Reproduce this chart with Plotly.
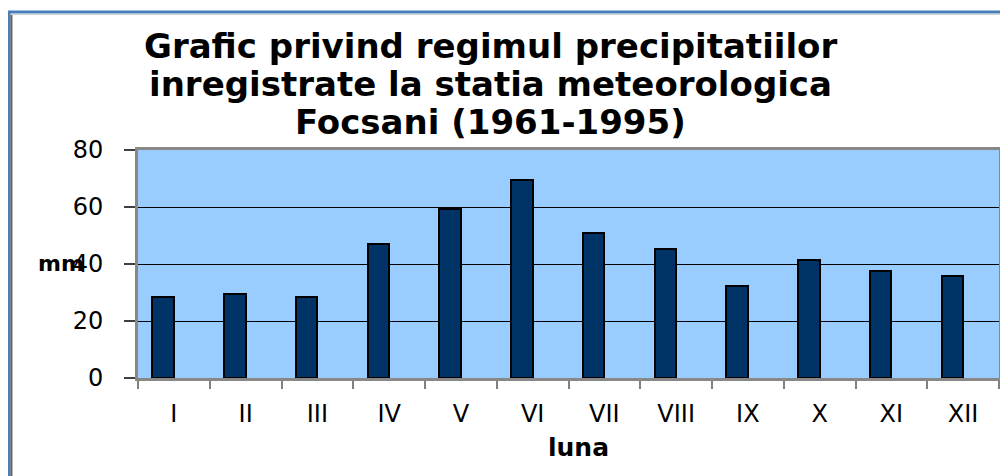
import plotly.graph_objects as go

months = ["I", "II", "III", "IV", "V", "VI", "VII", "VIII", "IX", "X", "XI", "XII"]
precip_mm = [28.5, 29.4, 28.3, 46.9, 59.2, 69.5, 51.0, 45.4, 32.3, 41.4, 37.4, 35.8]
y_ticks = [0, 20, 40, 60, 80]
title_lines = ["Grafic privind regimul precipitatiilor",
               "inregistrate la statia meteorologica",
               "Focsani (1961-1995)"]

# page offset (browser body margin)
OX, OY = 8, 8
W, H = 1000, 468
L, R, T, B = 138 - OX, 6, 150 - OY, 98
PW, PH = W - L - R, H - T - B


def px_x(px):
    return (px - OX - L) / PW


def px_y(py):
    return (H - B - (py - OY)) / PH


FONT = "DejaVu Sans"

fig = go.Figure()
fig.add_trace(go.Bar(
    x=months, y=precip_mm,
    width=0.3, offset=-0.3,
    marker=dict(color="#003366", line=dict(color="#000000", width=2)),
    hoverinfo="x+y",
))

annotations = []
for text, cy in zip(title_lines, [46, 84, 122]):
    annotations.append(dict(
        text="<b>" + text + "</b>", x=px_x(492), y=px_y(cy),
        xref="paper", yref="paper", xanchor="center", yanchor="middle",
        showarrow=False, font=dict(family=FONT, size=34, color="#000000"),
    ))
annotations.append(dict(
    text="<b>mm</b>", x=px_x(36), y=px_y(263), xref="paper", yref="paper",
    xanchor="left", yanchor="middle", showarrow=False,
    font=dict(family=FONT, size=22, color="#000000"),
))
annotations.append(dict(
    text="<b>luna</b>", x=px_x(580), y=px_y(447), xref="paper", yref="paper",
    xanchor="center", yanchor="middle", showarrow=False,
    font=dict(family=FONT, size=25, color="#000000"),
))

shapes = [
    # outer frame: blue line and inner grey line
    dict(type="line", xref="paper", yref="paper", x0=px_x(8.5), x1=px_x(8.5),
         y0=px_y(11), y1=px_y(480), line=dict(color="#4A7EBB", width=3)),
    dict(type="line", xref="paper", yref="paper", x0=px_x(7), x1=px_x(1012),
         y0=px_y(12), y1=px_y(12), line=dict(color="#4A7EBB", width=3)),
    dict(type="line", xref="paper", yref="paper", x0=px_x(11), x1=px_x(11),
         y0=px_y(14), y1=px_y(480), line=dict(color="#606060", width=2)),
    dict(type="line", xref="paper", yref="paper", x0=px_x(10), x1=px_x(1012),
         y0=px_y(14.5), y1=px_y(14.5), line=dict(color="#D0D0D0", width=1)),
]

fig.update_layout(
    width=W, height=H,
    margin=dict(l=L, r=R, t=T, b=B, pad=0),
    paper_bgcolor="#FFFFFF",
    plot_bgcolor="#99CCFF",
    showlegend=False,
    annotations=annotations,
    shapes=shapes,
    bargap=0.0,
    font=dict(family=FONT, color="#000000"),
)
fig.update_xaxes(
    type="category", tickson="boundaries", ticks="outside", ticklen=8,
    tickwidth=2, tickcolor="#808080",
    showline=True, linecolor="#888888", linewidth=3, mirror=True,
    showgrid=False, tickfont=dict(family=FONT, size=24, color="#000000"),
    ticklabelstandoff=12,
)
fig.update_yaxes(
    range=[0, 80], tickvals=y_ticks, ticks="outside", ticklen=11,
    tickwidth=2, tickcolor="#404040",
    showline=True, linecolor="#888888", linewidth=3, mirror=True,
    showgrid=True, gridcolor="#000000", gridwidth=1, zeroline=False,
    tickfont=dict(family=FONT, size=24, color="#000000"),
    ticklabelstandoff=16,
)

fig.write_html("out.html")
